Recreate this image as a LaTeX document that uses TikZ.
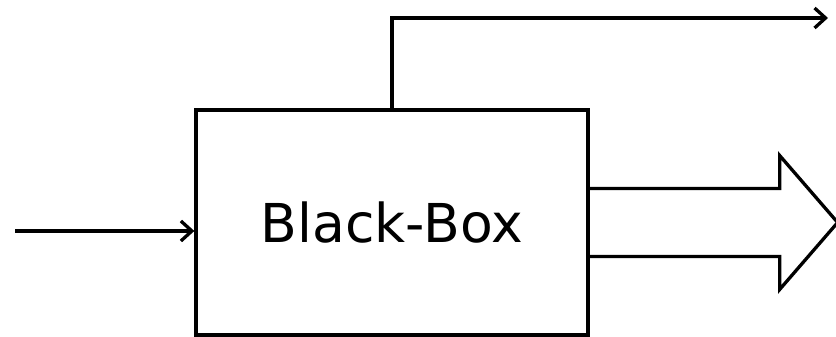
\documentclass[tikz,border=0pt]{standalone}
\usepackage{fontspec}
\setmainfont{DejaVu Sans}
\usetikzlibrary{arrows.meta,calc}
\begin{document}
\begin{tikzpicture}[x=0.02cm, y=-0.02cm,
  box/.style={
    draw, line width=3.3*0.02cm,
    minimum width=392*0.02cm,
    minimum height=225*0.02cm,
    font=\fontsize{30.5}{36}\selectfont,
    inner sep=0pt
  },
  arr/.style={-{Straight Barb[length=0.22cm, width=0.4cm, line width=3.3*0.02cm]},
    line width=3.3*0.02cm, black},
  bigarr/.style={line width=3.3*0.02cm, line join=miter, black}
]
  \useasboundingbox (0,0) rectangle (836,337);
  \node[box] (bbox) at (392,222.5) {Black-Box};
  \coordinate (in)  at (15,231);
  \coordinate (out) at (828,18);
  \draw[arr] (in) -- (in -| bbox.west);
  \draw[arr] (bbox.north) |- (out);
  % big output arrow
  \draw[bigarr] ($(bbox.east)+(0,-34)$) -- ++(190,0) -- ++(0,-33)
    -- ++(58,67) -- ++(-58,67) -- ++(0,-33) -- ($(bbox.east)+(0,34)$);
\end{tikzpicture}
\end{document}
